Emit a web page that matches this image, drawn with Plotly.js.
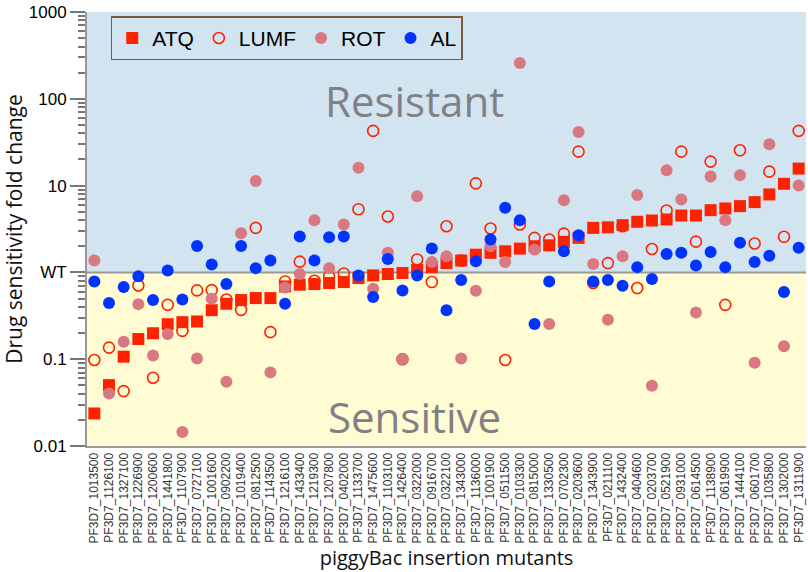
<!DOCTYPE html>
<html>
<head>
<meta charset="utf-8">
<script src="https://cdn.plot.ly/plotly-3.0.1.min.js"></script>
<style>html,body{margin:0;padding:0;background:#fff;}#chart{width:808px;height:572px;}</style>
</head>
<body>
<div id="chart"></div>
<script>
const mutants = ["PF3D7_1013500","PF3D7_1126100","PF3D7_1327100","PF3D7_1226900","PF3D7_1200600","PF3D7_1441800","PF3D7_1107900","PF3D7_0727100","PF3D7_1001600","PF3D7_0902200","PF3D7_1019400","PF3D7_0812500","PF3D7_1143500","PF3D7_1216100","PF3D7_1433400","PF3D7_1219300","PF3D7_1207800","PF3D7_0402000","PF3D7_1133700","PF3D7_1475600","PF3D7_1103100","PF3D7_1426400","PF3D7_0322000","PF3D7_0916700","PF3D7_0322100","PF3D7_1343000","PF3D7_1136000","PF3D7_1001900","PF3D7_0511500","PF3D7_0103300","PF3D7_0815000","PF3D7_1330500","PF3D7_0702300","PF3D7_0203600","PF3D7_1343900","PF3D7_0211100","PF3D7_1432400","PF3D7_0404600","PF3D7_0203700","PF3D7_0521900","PF3D7_0931000","PF3D7_0614500","PF3D7_1138900","PF3D7_0619900","PF3D7_1444100","PF3D7_0601700","PF3D7_1035800","PF3D7_1302000","PF3D7_1311900"];
const atq = [0.0237,0.0503,0.107,0.171,0.199,0.253,0.267,0.272,0.367,0.435,0.48,0.506,0.506,0.689,0.721,0.734,0.754,0.774,0.861,0.923,0.958,0.984,1.07,1.15,1.28,1.37,1.6,1.68,1.75,1.88,2.0,2.05,2.25,2.5,3.26,3.31,3.5,3.83,3.96,4.07,4.52,4.52,5.21,5.45,5.8,6.45,7.91,10.5,15.7];
const lumf = [0.098,0.136,0.0429,0.707,0.0611,0.423,0.212,0.62,0.625,0.488,0.37,3.26,0.205,0.787,1.33,0.80,0.90,0.973,5.35,42.7,4.4,0.10,1.41,0.774,3.4,1.37,10.6,3.2,0.098,3.56,2.5,2.39,2.8,24.6,0.754,1.28,3.4,0.66,1.86,5.17,24.6,2.26,18.9,0.423,25.5,2.15,14.5,2.57,42.7];
const rot = [1.37,0.0403,0.159,0.431,0.11,0.195,0.0145,0.102,0.497,0.055,2.82,11.3,0.0705,0.671,0.958,3.99,1.12,3.56,16.1,0.648,1.68,0.10,7.56,1.32,1.53,0.102,0.614,2.0,1.32,259,1.83,0.255,6.8,41.5,1.25,0.284,1.53,7.77,0.0494,15,6.92,0.345,12.7,3.99,13.2,0.091,29.9,0.141,10];
const al = [0.787,0.443,0.678,0.90,0.48,1.05,0.488,2.02,1.23,0.734,2.02,1.12,1.37,0.435,2.59,1.37,2.54,2.59,0.923,0.52,1.43,0.62,0.923,1.88,0.367,0.817,1.34,2.39,5.55,3.99,0.255,0.787,1.75,2.68,0.787,0.817,0.70,1.15,0.839,1.63,1.68,1.2,1.72,1.15,2.2,1.32,1.56,0.593,1.92];
const wtLabel = {"1": "WT"};

const FONT = "Liberation Sans, Arial, sans-serif";
const TFONT = "Open Sans, sans-serif";

const traces = [
  {x: mutants, y: atq, name: "ATQ", type: "scatter", mode: "markers",
   marker: {symbol: "square", size: 12, color: "#FF2200"}},
  {x: mutants, y: lumf, name: "LUMF", type: "scatter", mode: "markers",
   marker: {symbol: "circle-open", size: 11, color: "#FF2200", line: {width: 1.6, color: "#FF2200"}}},
  {x: mutants, y: rot, name: "ROT", type: "scatter", mode: "markers",
   marker: {symbol: "circle", size: 12, color: "#D97880"}},
  {x: mutants, y: al, name: "AL", type: "scatter", mode: "markers",
   marker: {symbol: "circle", size: 12, color: "#0033FF"}}
];

const layout = {
  width: 808, height: 572,
  margin: {l: 87, r: 2, t: 12, b: 126},
  paper_bgcolor: "#ffffff",
  plot_bgcolor: "#FFFBD2",
  showlegend: true,
  legend: {orientation: "h", x: 0.033, y: 0.99, xanchor: "left", yanchor: "top",
    bgcolor: "rgba(0,0,0,0)", bordercolor: "#7A5C40", borderwidth: 1.5,
    font: {size: 21, family: FONT, color: "#000"}, itemwidth: 30, tracegroupgap: 0},
  xaxis: {
    type: "category", range: [-0.5, mutants.length - 0.5],
    tickmode: "array", tickvals: mutants, ticktext: mutants,
    tickangle: -90, tickfont: {size: 12, family: FONT, color: "#333"},
    showgrid: false, zeroline: false, showline: true, linecolor: "#999", linewidth: 2,
    title: {text: "piggyBac insertion mutants", font: {size: 20, family: TFONT, color: "#111"}, standoff: 5}
  },
  yaxis: {
    type: "log", range: [-2, 3],
    labelalias: wtLabel, dtick: 1,
    ticks: "outside", ticklen: 15, tickwidth: 2, tickcolor: "#777",
    minor: {ticks: "outside", ticklen: 7, tickwidth: 2, tickcolor: "#777"},
    tickfont: {size: 17, family: FONT, color: "#000"},
    showline: true, linecolor: "#999", linewidth: 2,
    showgrid: false, zeroline: false,
    title: {text: "Drug sensitivity fold change", font: {size: 21, family: TFONT, color: "#111"}, standoff: 0}
  },
  shapes: [
    {type: "rect", xref: "x domain", yref: "y domain", x0: 0, x1: 1, y0: 0.4, y1: 1,
     fillcolor: "#D3E4F1", line: {width: 0}, layer: "below"},
    {type: "line", xref: "x domain", yref: "y domain", x0: 0, x1: 1, y0: 0.4, y1: 0.4,
     line: {color: "#999", width: 2}, layer: "below"}
  ],
  annotations: [
    {text: "Resistant", xref: "paper", yref: "paper", x: 0.456, y: 0.797, xanchor: "center", yanchor: "middle",
     showarrow: false, font: {family: TFONT, size: 42, color: "#808085"}},
    {text: "Sensitive", xref: "paper", yref: "paper", x: 0.456, y: 0.068, xanchor: "center", yanchor: "middle",
     showarrow: false, font: {family: TFONT, size: 42, color: "#808085"}}
  ]
};

Plotly.newPlot("chart", traces, layout, {displayModeBar: false, staticPlot: true});
</script>
</body>
</html>
